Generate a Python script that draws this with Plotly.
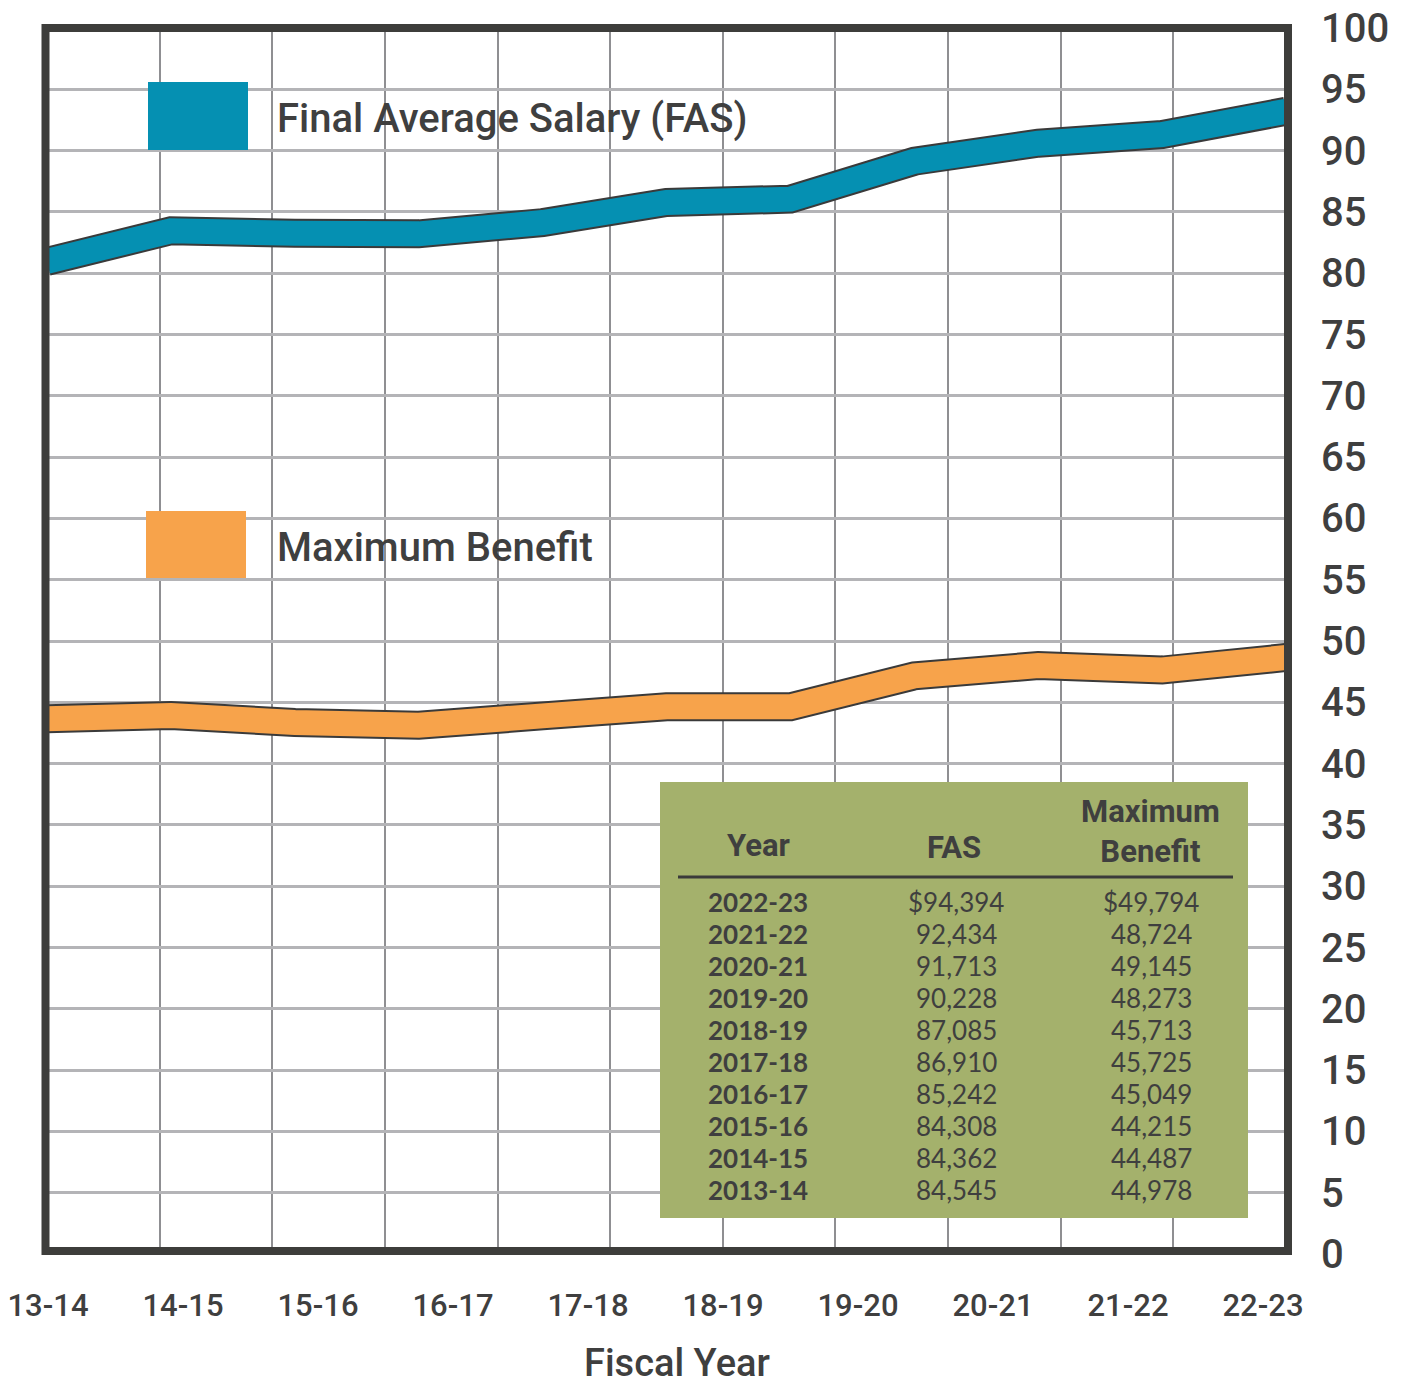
import plotly.graph_objects as go

# ---------------- data ----------------
fiscal_labels = ["13-14", "14-15", "15-16", "16-17", "17-18",
                 "18-19", "19-20", "20-21", "21-22", "22-23"]

# line vertices as drawn in the picture (thousands of dollars)
fas_line = [80.97, 83.46, 83.26, 83.21, 84.13, 85.77, 86.04, 89.13, 90.60, 91.31, 93.21]
benefit_line = [43.66, 43.92, 43.35, 43.13, 43.89, 44.64, 44.63, 47.16, 48.00, 47.63, 48.65]

table_years = ["2022-23", "2021-22", "2020-21", "2019-20", "2018-19",
               "2017-18", "2016-17", "2015-16", "2014-15", "2013-14"]
table_fas = [94394, 92434, 91713, 90228, 87085, 86910, 85242, 84308, 84362, 84545]
table_benefit = [49794, 48724, 49145, 48273, 45713, 45725, 45049, 44215, 44487, 44978]

y_ticks = list(range(0, 101, 5))

# ---------------- styling ----------------
W, H = 1408, 1384
L, R, T, B = 47, 1286, 28, 1254
BLUE = "#0590B2"
ORANGE = "#F7A34B"
OUTLINE = "#3a3a3a"
FRAME = "#3d3d3b"
TEXT = "#3f3f3f"
OLIVE = "#A4B16C"


def px(x):
    return (x - L) / (R - L)


def py(y):
    return (B - y) / (B - T)


fig = go.Figure()

idx = list(range(len(fas_line)))
for vals, col in [(fas_line, BLUE), (benefit_line, ORANGE)]:
    fig.add_trace(go.Scatter(x=idx, y=vals, mode="lines",
                             line=dict(color=OUTLINE, width=29),
                             hoverinfo="skip", showlegend=False))
    fig.add_trace(go.Scatter(x=idx, y=vals, mode="lines",
                             line=dict(color=col, width=25),
                             showlegend=False))

# dummy trace to carry fiscal-year category labels
fig.add_trace(go.Scatter(x=fiscal_labels, y=[None] * len(fiscal_labels),
                         xaxis="x2", mode="markers", showlegend=False,
                         hoverinfo="skip"))

shapes = []
# legend swatches
shapes.append(dict(type="rect", xref="paper", yref="paper",
                   x0=px(148), x1=px(248), y0=py(150), y1=py(82),
                   fillcolor=BLUE, line=dict(width=0), layer="above"))
shapes.append(dict(type="rect", xref="paper", yref="paper",
                   x0=px(146), x1=px(246), y0=py(578), y1=py(511),
                   fillcolor=ORANGE, line=dict(width=0), layer="above"))
# table background
shapes.append(dict(type="rect", xref="paper", yref="paper",
                   x0=px(660), x1=px(1248), y0=py(1218), y1=py(782),
                   fillcolor=OLIVE, line=dict(width=0), layer="above"))
shapes.append(dict(type="line", xref="paper", yref="paper",
                   x0=px(678), x1=px(1233), y0=py(877), y1=py(877),
                   line=dict(color=OUTLINE, width=3), layer="above"))
# frame
shapes.append(dict(type="rect", xref="paper", yref="paper",
                   x0=px(45.5), x1=px(1288), y0=py(1251), y1=py(28),
                   line=dict(color=FRAME, width=8), layer="above"))

lfont = dict(family="Roboto", size=40, color=TEXT, weight=500)
ann = []
ann.append(dict(text="Final Average Salary (FAS)", xref="paper", yref="paper",
                x=px(275), y=py(118), xanchor="left", yanchor="middle",
                showarrow=False, font=lfont))
ann.append(dict(text="Maximum Benefit", xref="paper", yref="paper",
                x=px(275), y=py(547), xanchor="left", yanchor="middle",
                showarrow=False, font=lfont))
ann.append(dict(text="Fiscal Year", xref="paper", yref="paper",
                x=px(676.5), y=py(1363), xanchor="center", yanchor="middle",
                showarrow=False, font=dict(family="Roboto", size=38, color=TEXT, weight=500)))

hfont = dict(family="Roboto", size=31, color=TEXT, weight="bold")
ann.append(dict(text="Year", xref="paper", yref="paper", x=px(758), y=py(845),
                xanchor="center", yanchor="middle", showarrow=False, font=hfont))
ann.append(dict(text="FAS", xref="paper", yref="paper", x=px(954), y=py(847),
                xanchor="center", yanchor="middle", showarrow=False, font=hfont))
ann.append(dict(text="Maximum<br>Benefit", xref="paper", yref="paper", x=px(1150), y=py(831),
                xanchor="center", yanchor="middle", showarrow=False, font=hfont,
                align="center"))

yfont = dict(family="Lato", size=26, color=TEXT, weight="bold")
nfont = dict(family="Lato", size=26, color=TEXT)
for i, (yr, f, b) in enumerate(zip(table_years, table_fas, table_benefit)):
    yy = 902 + 32 * i
    pre = "$" if i == 0 else ""
    ann.append(dict(text=yr, xref="paper", yref="paper", x=px(758), y=py(yy),
                    xanchor="center", yanchor="middle", showarrow=False, font=yfont))
    ann.append(dict(text=f"{pre}{f:,}", xref="paper", yref="paper", x=px(956), y=py(yy),
                    xanchor="center", yanchor="middle", showarrow=False, font=nfont))
    ann.append(dict(text=f"{pre}{b:,}", xref="paper", yref="paper", x=px(1151), y=py(yy),
                    xanchor="center", yanchor="middle", showarrow=False, font=nfont))

n_seg = len(fas_line) - 1
lab_step = (1263 - 48) / (len(fiscal_labels) - 1)

fig.update_layout(
    width=W, height=H, autosize=False,
    margin=dict(l=L, r=W - R, t=T, b=H - B, pad=0, autoexpand=False),
    paper_bgcolor="white", plot_bgcolor="white",
    shapes=shapes, annotations=ann,
    xaxis=dict(range=[0, n_seg], tick0=0, dtick=n_seg / 11, automargin=False,
               showgrid=True, gridcolor="#8f8f92", gridwidth=2,
               showticklabels=False, zeroline=False, showline=False, ticks=""),
    xaxis2=dict(overlaying="x", anchor="y", side="bottom", type="category",
                range=[(L - 48) / lab_step, (R - 48) / lab_step], automargin=False,
                showgrid=False, zeroline=False, showline=False, ticks="",
                tickfont=dict(family="Roboto", size=31, color=TEXT, weight=500),
                ticklabelstandoff=30),
    yaxis=dict(range=[0, 100], tickvals=y_ticks, side="right", automargin=False,
               showgrid=True, gridcolor="#b4b4b7", gridwidth=3,
               zeroline=False, showline=False, ticks="",
               tickfont=dict(family="Roboto", size=40, color=TEXT, weight=500),
               ticklabelstandoff=34),
    hovermode=False,
)

fig.write_html("out.html", config={"displayModeBar": False},
               post_script="document.body.style.margin='0';")
